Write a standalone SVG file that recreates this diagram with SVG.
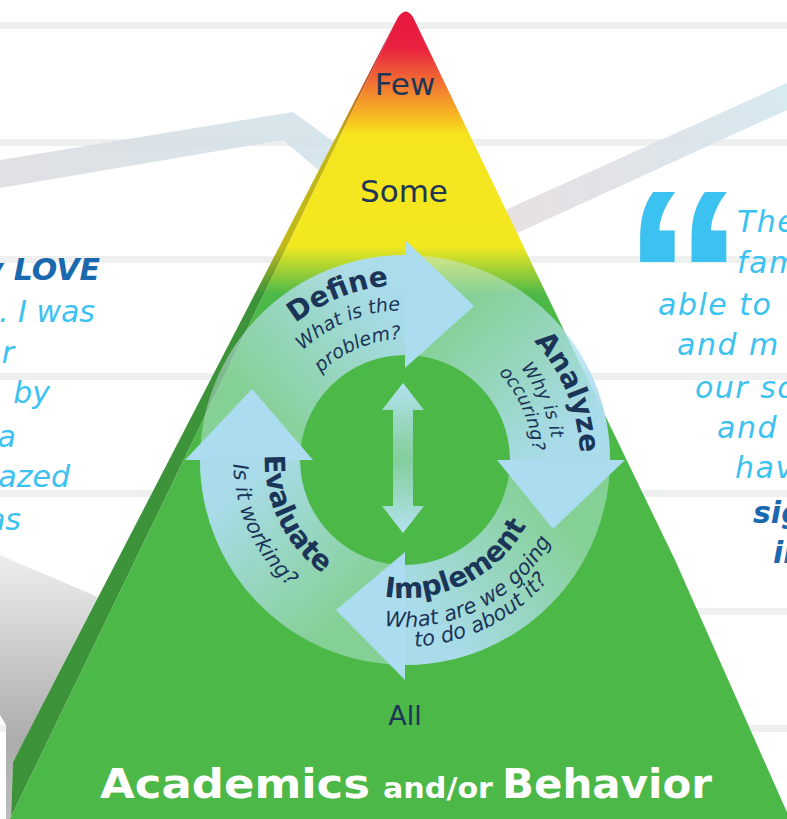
<svg xmlns="http://www.w3.org/2000/svg" width="787" height="819" viewBox="0 0 787 819">
<style>
.rule{fill:#eef0f0}
.lbl{font-family:"DejaVu Sans",sans-serif;fill:#1f3556;text-anchor:middle}
.ttl{font-family:"DejaVu Sans",sans-serif;font-weight:bold;font-size:28px;fill:#1b3558}
.sub{font-family:"DejaVu Sans",sans-serif;font-style:italic;fill:#1b3558}
.q{font-family:"DejaVu Sans",sans-serif;font-style:italic;font-size:30px;fill:#3bc2f1;letter-spacing:1.5px}
.ql{font-family:"DejaVu Sans",sans-serif;font-style:italic;font-size:30px;fill:#3bc2f1}
.qb{font-family:"DejaVu Sans",sans-serif;font-style:italic;font-weight:bold;font-size:30px;fill:#1a69ae}
.head{fill:#abdcef}
</style>
<defs>
<linearGradient id="pyr" gradientUnits="userSpaceOnUse" x1="0" y1="12" x2="0" y2="819">
<stop offset="0" stop-color="#e8173f"/>
<stop offset="0.045" stop-color="#ea2240"/>
<stop offset="0.1" stop-color="#f2872e"/>
<stop offset="0.135" stop-color="#f8c21f"/>
<stop offset="0.15" stop-color="#f5e41f"/>
<stop offset="0.29" stop-color="#f3e820"/>
<stop offset="0.35" stop-color="#4cb848"/>
<stop offset="1" stop-color="#4cb848"/>
</linearGradient>
<linearGradient id="beamL" x1="0" y1="0" x2="1" y2="0">
<stop offset="0" stop-color="#dcdde0"/>
<stop offset="1" stop-color="#d2e3eb"/>
</linearGradient>
<linearGradient id="beamR" x1="0" y1="0" x2="1" y2="0">
<stop offset="0" stop-color="#e7dbdc"/>
<stop offset="1" stop-color="#d2e6ef"/>
</linearGradient>
<linearGradient id="shadow" gradientUnits="userSpaceOnUse" x1="0" y1="560" x2="0" y2="819">
<stop offset="0" stop-color="#ececec"/>
<stop offset="0.7" stop-color="#acacac"/>
<stop offset="1" stop-color="#bdbdbd"/>
</linearGradient>
<linearGradient id="gDef" gradientUnits="userSpaceOnUse" x1="252" y1="433" x2="391" y2="306">
<stop offset="0.1" stop-color="#abdcef" stop-opacity="0"/>
<stop offset="1" stop-color="#abdcef" stop-opacity="0.95"/>
</linearGradient>
<linearGradient id="gAna" gradientUnits="userSpaceOnUse" x1="432" y1="307" x2="559" y2="446">
<stop offset="0.1" stop-color="#abdcef" stop-opacity="0"/>
<stop offset="1" stop-color="#abdcef" stop-opacity="0.95"/>
</linearGradient>
<linearGradient id="gImp" gradientUnits="userSpaceOnUse" x1="558" y1="487" x2="418" y2="614">
<stop offset="0.1" stop-color="#abdcef" stop-opacity="0"/>
<stop offset="1" stop-color="#abdcef" stop-opacity="0.95"/>
</linearGradient>
<linearGradient id="gEva" gradientUnits="userSpaceOnUse" x1="378" y1="613" x2="251" y2="473">
<stop offset="0.1" stop-color="#abdcef" stop-opacity="0"/>
<stop offset="1" stop-color="#abdcef" stop-opacity="0.95"/>
</linearGradient>
<linearGradient id="gMid" x1="0" y1="0" x2="0" y2="1">
<stop offset="0" stop-color="#b4e2f2"/>
<stop offset="0.5" stop-color="#9cd8c0" stop-opacity="0.7"/>
<stop offset="1" stop-color="#b4e2f2"/>
</linearGradient>
<path id="pDef1" d="M233.8,496.4 A175,175 0 0 1 553.4,367.3"/>
<path id="pDef2" d="M258.6,492.5 A150,150 0 0 1 531.5,379.4"/>
<path id="pDef3" d="M287.1,487.2 A121,121 0 0 1 506.5,394.1"/>
<path id="pAna1" d="M367.1,289.1 A175,175 0 0 1 499.0,607.6"/>
<path id="pAna2" d="M370.5,316.1 A148,148 0 0 1 486.7,583.4"/>
<path id="pAna3" d="M375.1,335.5 A128,128 0 0 1 475.6,566.7"/>
<path id="pImp1" d="M294.1,542.1 A138,138 0 0 0 537.3,420.8"/>
<path id="pImp2" d="M271.6,560.5 A167,167 0 0 0 564.7,411.2"/>
<path id="pImp3" d="M254.7,571.2 A187,187 0 0 0 584.3,406.9"/>
<path id="pEva1" d="M322.7,346.7 A140,140 0 0 0 443.6,594.6"/>
<path id="pEva2" d="M307.6,318.3 A172,172 0 0 0 448.1,626.5"/>
</defs>

<g id="background">
<rect x="0" y="0" width="787" height="819" fill="#ffffff"/>
<rect class="rule" x="0" y="22" width="787" height="7"/>
<rect class="rule" x="0" y="139" width="787" height="7"/>
<rect class="rule" x="0" y="256" width="787" height="7"/>
<rect class="rule" x="0" y="373" width="787" height="7"/>
<rect class="rule" x="0" y="490" width="787" height="7"/>
<rect class="rule" x="0" y="608" width="787" height="7"/>
<rect class="rule" x="0" y="725" width="787" height="7"/>
<polygon points="0,160 293,112 345,150 330,180 283,140 0,188" fill="url(#beamL)" opacity="0.9"/>
<polygon points="470,226 787,83 787,110 480,250" fill="url(#beamR)" opacity="0.9"/>
<polygon points="0,555 100,598 13,762 11,819 6,819 6,725 0,715" fill="url(#shadow)"/>
</g>

<g id="pyramid">
<path d="M397,19 L13,762 L11,819 L10,819 Z" fill="url(#pyr)"/>
<path d="M397,19 L13,762 L11,819 L10,819 Z" fill="#000" opacity="0.2"/>
<path d="M397,19 Q405,5 413,17 L530,260 L675,560 L790,819 L10,819 Z" fill="url(#pyr)"/>
<text class="lbl" x="405" y="95" font-size="31">Few</text>
<text class="lbl" x="404" y="202" font-size="31">Some</text>
<text class="lbl" x="405" y="725" font-size="27">All</text>
<text x="100" y="798" font-family="DejaVu Sans, sans-serif" font-weight="bold" fill="#ffffff"><tspan font-size="40" textLength="270" lengthAdjust="spacingAndGlyphs">Academics</tspan><tspan x="383" font-size="29" textLength="110" lengthAdjust="spacingAndGlyphs">and/or</tspan><tspan x="502" font-size="40" textLength="210" lengthAdjust="spacingAndGlyphs">Behavior</tspan></text>
</g>

<g id="cycle-ring">
<circle cx="405" cy="460" r="155" fill="none" stroke="#cdeef5" stroke-width="100" opacity="0.45"/>
</g>

<g id="define">
<path d="M200,460 A205,205 0 0 1 405,255 L405,355 A105,105 0 0 0 300,460 Z" fill="url(#gDef)"/>
</g>
<g id="analyze">
<path d="M405,255 A205,205 0 0 1 610,460 L510,460 A105,105 0 0 0 405,355 Z" fill="url(#gAna)"/>
</g>
<g id="implement">
<path d="M610,460 A205,205 0 0 1 405,665 L405,565 A105,105 0 0 0 510,460 Z" fill="url(#gImp)"/>
</g>
<g id="evaluate">
<path d="M405,665 A205,205 0 0 1 200,460 L300,460 A105,105 0 0 0 405,565 Z" fill="url(#gEva)"/>
</g>

<g id="arrowheads">
<polygon class="head" points="405,368 405,240 474,306"/>
<polygon class="head" points="497,460 625,460 553,529"/>
<polygon class="head" points="405,552 405,680 336,610"/>
<polygon class="head" points="313,460 185,460 252,389"/>
</g>

<g id="cycle-labels">
<text class="ttl"><textPath href="#pDef1" startOffset="50%" text-anchor="middle">Define</textPath></text>
<text class="sub" font-size="19"><textPath href="#pDef2" startOffset="50%" text-anchor="middle">What is the</textPath></text>
<text class="sub" font-size="19"><textPath href="#pDef3" startOffset="50%" text-anchor="middle">problem?</textPath></text>
<text class="ttl"><textPath href="#pAna1" startOffset="50%" text-anchor="middle">Analyze</textPath></text>
<text class="sub" font-size="18"><textPath href="#pAna2" startOffset="50%" text-anchor="middle">Why is it</textPath></text>
<text class="sub" font-size="18"><textPath href="#pAna3" startOffset="50%" text-anchor="middle">occuring?</textPath></text>
<text class="ttl"><textPath href="#pImp1" startOffset="50%" text-anchor="middle">Implement</textPath></text>
<text class="sub" font-size="21"><textPath href="#pImp2" startOffset="50%" text-anchor="middle">What are we going</textPath></text>
<text class="sub" font-size="21"><textPath href="#pImp3" startOffset="50%" text-anchor="middle">to do about it?</textPath></text>
<text class="ttl"><textPath href="#pEva1" startOffset="50%" text-anchor="middle">Evaluate</textPath></text>
<text class="sub" font-size="21"><textPath href="#pEva2" startOffset="50%" text-anchor="middle">Is it working?</textPath></text>
</g>

<g id="connectors">
<polygon points="403,383 424,410 413,410 413,506 424,506 403,533 382,506 393,506 393,410 382,410" fill="url(#gMid)"/>
</g>

<g id="quote-left">
<text class="qb" x="100" y="280" text-anchor="end">y LOVE</text>
<text class="ql" x="95" y="322" text-anchor="end">. I was</text>
<text class="ql" x="14" y="363" text-anchor="end">r</text>
<text class="ql" x="50" y="403" text-anchor="end">by</text>
<text class="ql" x="16" y="447" text-anchor="end">a</text>
<text class="ql" x="70" y="487" text-anchor="end">azed</text>
<text class="ql" x="21" y="530" text-anchor="end">as</text>
</g>

<g id="quote-right">
<text x="622" y="362" font-family="Liberation Sans, sans-serif" font-weight="bold" font-size="246" fill="#3bc2f1">“</text>
<text class="q" x="737" y="232">The</text>
<text class="q" x="737" y="273">fam</text>
<text class="q" x="658" y="315">able to</text>
<text class="q" x="677" y="355">and m</text>
<text class="q" x="695" y="398">our sc</text>
<text class="q" x="717" y="438">and</text>
<text class="q" x="735" y="478">hav</text>
<text class="qb" x="753" y="523">sig</text>
<text class="qb" x="773" y="563">in</text>
</g>
</svg>
